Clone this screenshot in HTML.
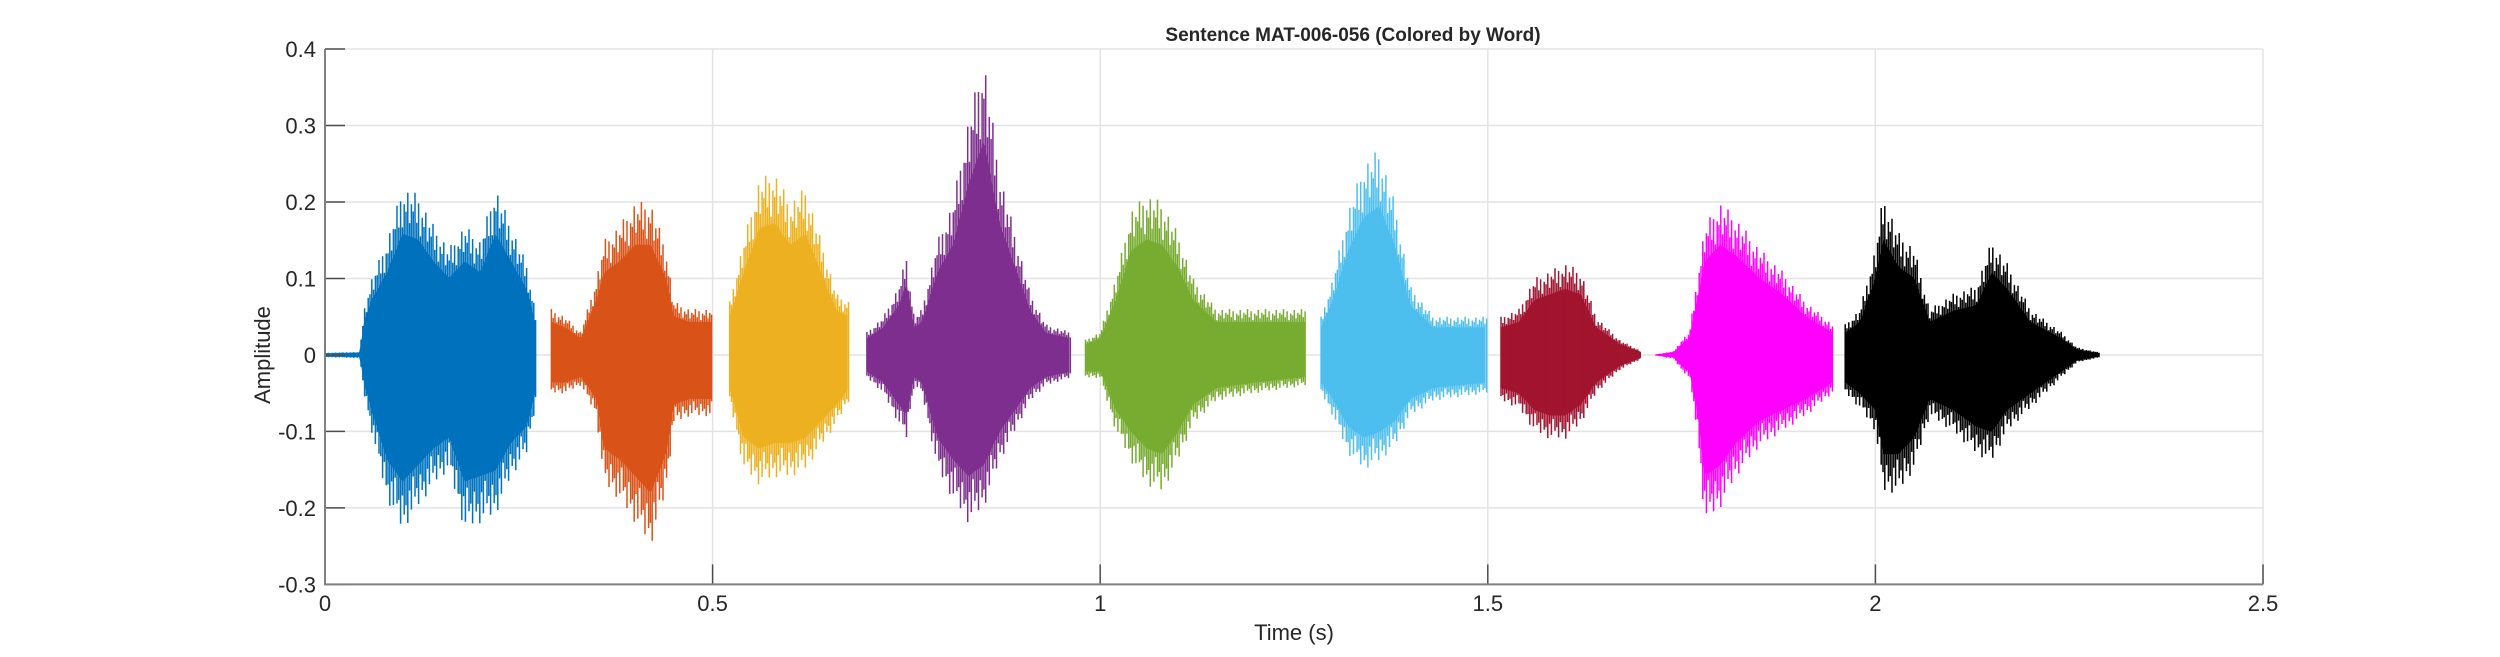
<!DOCTYPE html>
<html><head><meta charset="utf-8"><style>
html,body{margin:0;padding:0;background:#fff;}
svg{display:block;font-family:"Liberation Sans",Arial,sans-serif;}
</style></head><body>
<svg id="chart" width="2500" height="657" viewBox="0 0 2500 657">
<g id="grid"></g>
<g id="marks"></g>
<g id="axes"></g>
<text x="1353" y="41" text-anchor="middle" font-size="19" font-weight="bold" fill="#262626">Sentence MAT-006-056 (Colored by Word)</text>
<text x="1294" y="640" text-anchor="middle" font-size="22" fill="#262626">Time (s)</text>
<text transform="translate(270,355) rotate(-90)" text-anchor="middle" font-size="22" fill="#262626">Amplitude</text>
</svg>
<script>
const xTicks = [0, 0.5, 1, 1.5, 2, 2.5];
const xTickLabels = ["0", "0.5", "1", "1.5", "2", "2.5"];
const yTicks = [-0.3, -0.2, -0.1, 0, 0.1, 0.2, 0.3, 0.4];
const yTickLabels = ["-0.3", "-0.2", "-0.1", "0", "0.1", "0.2", "0.3", "0.4"];
const wordColors = ["#0072BD","#D95319","#EDB120","#7E2F8E","#77AC30","#4DBEEE","#A2142F","#FF00FF","#000000"];
const wordNames = ["word-1","word-2","word-3","word-4","word-5","word-6","word-7","word-8","word-9"];
// envelope samples per word: time, upper, lower
const wordTimes = [
 [0,0.045,0.05,0.06,0.08,0.10,0.12,0.14,0.16,0.18,0.20,0.22,0.24,0.26,0.273],
 [0.292,0.31,0.33,0.35,0.36,0.38,0.40,0.42,0.44,0.45,0.47,0.50],
 [0.522,0.54,0.56,0.58,0.60,0.62,0.64,0.66,0.676],
 [0.699,0.72,0.74,0.75,0.76,0.77,0.79,0.81,0.83,0.85,0.87,0.89,0.91,0.93,0.962],
 [0.981,1.0,1.02,1.04,1.06,1.08,1.10,1.12,1.15,1.2,1.266],
 [1.285,1.3,1.32,1.34,1.36,1.38,1.40,1.43,1.499],
 [1.517,1.54,1.56,1.58,1.6,1.62,1.64,1.67,1.698],
 [1.717,1.74,1.75,1.76,1.77,1.78,1.80,1.82,1.85,1.88,1.91,1.945],
 [1.961,1.98,2.0,2.01,2.03,2.05,2.07,2.1,2.13,2.15,2.17,2.2,2.24,2.26,2.29]
];
const wordUpper = [
 [0.003,0.004,0.06,0.1,0.15,0.22,0.21,0.17,0.14,0.17,0.15,0.22,0.17,0.12,0.05],
 [0.06,0.05,0.03,0.1,0.15,0.17,0.2,0.2,0.14,0.07,0.06,0.06],
 [0.07,0.15,0.23,0.24,0.2,0.22,0.15,0.08,0.07],
 [0.03,0.05,0.09,0.13,0.05,0.06,0.15,0.2,0.31,0.39,0.24,0.16,0.08,0.04,0.03],
 [0.02,0.03,0.1,0.19,0.21,0.2,0.16,0.1,0.06,0.06,0.06],
 [0.05,0.1,0.19,0.25,0.27,0.2,0.09,0.05,0.05],
 [0.05,0.06,0.1,0.11,0.12,0.11,0.05,0.02,0.005],
 [0.001,0.005,0.02,0.03,0.1,0.17,0.2,0.18,0.14,0.11,0.07,0.04],
 [0.04,0.06,0.14,0.21,0.16,0.14,0.06,0.08,0.09,0.15,0.12,0.06,0.03,0.01,0.003]
];
const wordLower = [
 [-0.003,-0.004,-0.05,-0.1,-0.19,-0.23,-0.2,-0.17,-0.15,-0.23,-0.22,-0.21,-0.16,-0.13,-0.06],
 [-0.05,-0.05,-0.04,-0.08,-0.17,-0.19,-0.22,-0.25,-0.18,-0.09,-0.08,-0.08],
 [-0.06,-0.15,-0.17,-0.16,-0.16,-0.15,-0.12,-0.09,-0.06],
 [-0.03,-0.05,-0.09,-0.11,-0.04,-0.05,-0.15,-0.19,-0.22,-0.2,-0.14,-0.1,-0.06,-0.04,-0.03],
 [-0.03,-0.03,-0.1,-0.14,-0.17,-0.18,-0.14,-0.09,-0.06,-0.05,-0.04],
 [-0.05,-0.08,-0.13,-0.15,-0.14,-0.12,-0.08,-0.06,-0.05],
 [-0.06,-0.07,-0.1,-0.11,-0.11,-0.09,-0.05,-0.02,-0.005],
 [-0.001,-0.005,-0.02,-0.03,-0.1,-0.22,-0.2,-0.16,-0.12,-0.1,-0.08,-0.05],
 [-0.05,-0.07,-0.1,-0.18,-0.18,-0.15,-0.08,-0.1,-0.13,-0.14,-0.1,-0.07,-0.03,-0.01,-0.003]
];

const NS = "http://www.w3.org/2000/svg";
const L = 325, R = 2263, T = 49, B = 584.4;
const xMin = 0, xMax = 2.5, yMin = -0.3, yMax = 0.4;
function sx(t){ return L + (t - xMin) / (xMax - xMin) * (R - L); }
function sy(v){ return B - (v - yMin) / (yMax - yMin) * (B - T); }
function mk(tag, attrs, parent){ const e = document.createElementNS(NS, tag); for (const k in attrs) e.setAttribute(k, attrs[k]); parent.appendChild(e); return e; }

const grid = document.getElementById('grid');
const axes = document.getElementById('axes');
const marks = document.getElementById('marks');

xTicks.forEach((t, i) => {
  const g = mk('line', {x1:sx(t), x2:sx(t), y1:T, y2:B, stroke:'#e3e3e3', 'stroke-width':1.5}, grid);
  
  
  const tk = mk('line', {x1:sx(t), x2:sx(t), y1:B, y2:B-20, stroke:'#4d4d4d', 'stroke-width':1.5}, axes);
  
  
  const lb = mk('text', {x:sx(t), y:611, 'text-anchor':'middle', 'font-size':22, fill:'#262626'}, axes);
  lb.textContent = xTickLabels[i];
  
  
});
yTicks.forEach((v, i) => {
  const g = mk('line', {x1:L, x2:R, y1:sy(v), y2:sy(v), stroke:'#e3e3e3', 'stroke-width':1.5}, grid);
  
  
  const tk = mk('line', {x1:L, x2:L+20, y1:sy(v), y2:sy(v), stroke:'#4d4d4d', 'stroke-width':1.5}, axes);
  
  
  const lb = mk('text', {x:316, y:sy(v)+8, 'text-anchor':'end', 'font-size':22, fill:'#262626'}, axes);
  lb.textContent = yTickLabels[i];
  
  
});
const ax1 = mk('path', {d:`M${L},${T}V${B}H${R}`, fill:'none', stroke:'#808080', 'stroke-width':2}, axes);



function interp(ts, vs, t){
  if (t <= ts[0]) return vs[0];
  for (let i = 1; i < ts.length; i++) if (t <= ts[i]) { const f = (t - ts[i-1]) / (ts[i] - ts[i-1]); return vs[i-1] + f * (vs[i] - vs[i-1]); }
  return vs[vs.length-1];
}
const pattern = [1, 0.82, 0.95, 0.76, 0.9, 0.86, 0.98, 0.8, 0.92, 0.88];
wordTimes.forEach((ts, w) => {
  const g = mk('g', {}, marks);
  
  
  const t0 = ts[0], t1 = ts[ts.length-1];
  const x0 = sx(t0), x1 = sx(t1);
  let top = [], bot = [];
  for (let x = x0; x <= x1; x += 2) {
    const t = xMin + (x - L) / (R - L) * (xMax - xMin);
    top.push(`${x.toFixed(1)},${sy(0.72*interp(ts, wordUpper[w], t)).toFixed(1)}`);
    bot.unshift(`${x.toFixed(1)},${sy(0.72*interp(ts, wordLower[w], t)).toFixed(1)}`);
  }
  const core = mk('polygon', {points: top.concat(bot).join(' '), fill: wordColors[w]}, g);
  
  
  let d = '', k = 0;
  for (let x = x0; x <= x1; x += 1.8, k++) {
    const t = xMin + (x - L) / (R - L) * (xMax - xMin);
    const p = pattern[k % pattern.length], q = pattern[(k + 4) % pattern.length];
    d += `M${x.toFixed(1)},${sy(p*interp(ts, wordUpper[w], t)).toFixed(1)}V${sy(q*interp(ts, wordLower[w], t)).toFixed(1)}`;
  }
  const ln = mk('path', {d, stroke: wordColors[w], 'stroke-width':1.5, fill:'none'}, g);
  
  
});
</script>
</body></html>
